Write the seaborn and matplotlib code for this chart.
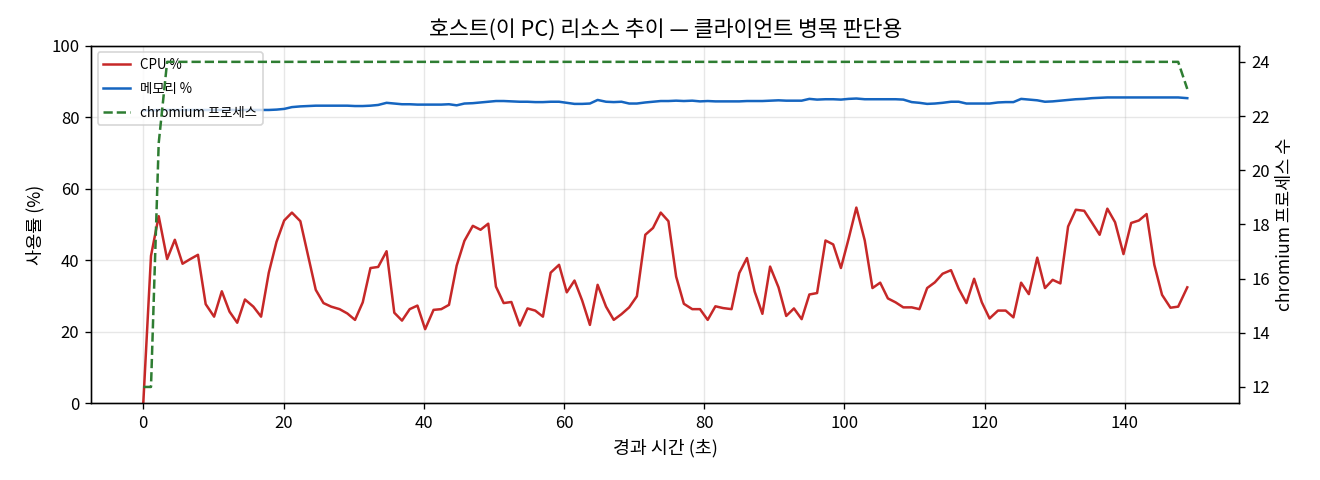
import matplotlib
matplotlib.use("Agg")
import matplotlib.pyplot as plt
import seaborn as sns

# 경과 시간 (초)
elapsed = [0.0, 1.1, 2.2, 3.4, 4.5, 5.6, 6.7, 7.8, 8.9, 10.1,
           11.2, 12.3, 13.4, 14.5, 15.7, 16.8, 17.9, 19.0, 20.1, 21.2,
           22.4, 23.5, 24.6, 25.7, 26.8, 28.0, 29.1, 30.2, 31.3, 32.4,
           33.5, 34.7, 35.8, 36.9, 38.0, 39.1, 40.2, 41.4, 42.5, 43.6,
           44.7, 45.8, 47.0, 48.1, 49.2, 50.3, 51.4, 52.5, 53.7, 54.8,
           55.9, 57.0, 58.1, 59.3, 60.4, 61.5, 62.6, 63.7, 64.8, 66.0,
           67.1, 68.2, 69.3, 70.4, 71.6, 72.7, 73.8, 74.9, 76.0, 77.1,
           78.3, 79.4, 80.5, 81.6, 82.7, 83.9, 85.0, 86.1, 87.2, 88.3,
           89.4, 90.6, 91.7, 92.8, 93.9, 95.0, 96.1, 97.3, 98.4, 99.5,
           100.6, 101.7, 102.9, 104.0, 105.1, 106.2, 107.3, 108.4, 109.6, 110.7,
           111.8, 112.9, 114.0, 115.2, 116.3, 117.4, 118.5, 119.6, 120.7, 121.9,
           123.0, 124.1, 125.2, 126.3, 127.5, 128.6, 129.7, 130.8, 131.9, 133.0,
           134.2, 135.3, 136.4, 137.5, 138.6, 139.8, 140.9, 142.0, 143.1, 144.2,
           145.3, 146.5, 147.6, 148.9]

cpu = [0.0, 41.2, 52.3, 40.3, 45.7, 39.0, 40.3, 41.5, 27.7, 24.2,
       31.3, 25.6, 22.5, 29.0, 27.0, 24.2, 36.5, 45.1, 51.1, 53.3,
       50.9, 41.3, 31.7, 28.0, 27.0, 26.3, 25.1, 23.3, 28.2, 37.8,
       38.1, 42.5, 25.3, 23.1, 26.3, 27.3, 20.7, 26.1, 26.3, 27.5,
       38.5, 45.4, 49.6, 48.5, 50.2, 32.6, 28.0, 28.3, 21.7, 26.5,
       25.9, 24.2, 36.5, 38.7, 31.0, 34.3, 28.7, 21.9, 33.1, 27.0,
       23.3, 24.9, 26.8, 29.9, 47.1, 49.0, 53.3, 50.9, 35.4, 27.8,
       26.3, 26.3, 23.3, 27.1, 26.6, 26.3, 36.4, 40.6, 31.2, 25.0,
       38.2, 32.4, 24.4, 26.5, 23.5, 30.4, 30.8, 45.5, 44.4, 37.8,
       46.0, 54.7, 45.5, 32.2, 33.7, 29.3, 28.2, 26.8, 26.8, 26.3,
       32.2, 33.8, 36.2, 37.2, 32.0, 28.0, 34.8, 28.2, 23.7, 25.9,
       25.9, 24.0, 33.7, 30.5, 40.7, 32.2, 34.5, 33.5, 49.4, 54.1,
       53.8, 50.5, 47.1, 54.4, 50.6, 41.7, 50.4, 51.1, 52.9, 38.7,
       30.3, 26.7, 27.0, 32.4]

memory = [81.9, 81.9, 82.0, 82.0, 82.0, 82.0, 82.0, 82.0, 82.0, 82.0,
          82.0, 82.0, 82.0, 82.0, 82.0, 82.0, 82.0, 82.1, 82.3, 82.8,
          83.0, 83.1, 83.2, 83.2, 83.2, 83.2, 83.2, 83.1, 83.1, 83.2,
          83.4, 84.0, 83.8, 83.6, 83.6, 83.5, 83.5, 83.5, 83.5, 83.6,
          83.3, 83.8, 83.9, 84.1, 84.3, 84.5, 84.5, 84.4, 84.3, 84.3,
          84.2, 84.2, 84.3, 84.3, 84.0, 83.7, 83.7, 83.8, 84.8, 84.3,
          84.2, 84.3, 83.8, 83.8, 84.1, 84.3, 84.5, 84.5, 84.6, 84.5,
          84.6, 84.4, 84.5, 84.4, 84.4, 84.4, 84.4, 84.5, 84.5, 84.5,
          84.6, 84.7, 84.6, 84.6, 84.6, 85.1, 84.9, 85.0, 85.0, 84.9,
          85.1, 85.2, 85.0, 85.0, 85.0, 85.0, 85.0, 84.9, 84.2, 84.0,
          83.7, 83.8, 84.0, 84.3, 84.3, 83.8, 83.8, 83.8, 83.8, 84.1,
          84.2, 84.2, 85.1, 84.9, 84.7, 84.3, 84.4, 84.6, 84.8, 85.0,
          85.1, 85.3, 85.4, 85.5, 85.5, 85.5, 85.5, 85.5, 85.5, 85.5,
          85.5, 85.5, 85.5, 85.3]

chromium = [12, 12, 21, 24, 24, 24, 24, 24, 24, 24,
            24, 24, 24, 24, 24, 24, 24, 24, 24, 24,
            24, 24, 24, 24, 24, 24, 24, 24, 24, 24,
            24, 24, 24, 24, 24, 24, 24, 24, 24, 24,
            24, 24, 24, 24, 24, 24, 24, 24, 24, 24,
            24, 24, 24, 24, 24, 24, 24, 24, 24, 24,
            24, 24, 24, 24, 24, 24, 24, 24, 24, 24,
            24, 24, 24, 24, 24, 24, 24, 24, 24, 24,
            24, 24, 24, 24, 24, 24, 24, 24, 24, 24,
            24, 24, 24, 24, 24, 24, 24, 24, 24, 24,
            24, 24, 24, 24, 24, 24, 24, 24, 24, 24,
            24, 24, 24, 24, 24, 24, 24, 24, 24, 24,
            24, 24, 24, 24, 24, 24, 24, 24, 24, 24,
            24, 24, 24, 23]

plt.rcParams['font.family'] = ['Noto Sans CJK KR', 'DejaVu Sans']
plt.rcParams['axes.unicode_minus'] = False

fig, ax = plt.subplots(figsize=(11, 4), dpi=120)
fig.subplots_adjust(left=0.069, right=0.939, top=0.905, bottom=0.160)

# 왼쪽 축: CPU / 메모리
sns.lineplot(x=elapsed, y=cpu, ax=ax, color='#c62828', linewidth=1.5, label='CPU %')
sns.lineplot(x=elapsed, y=memory, ax=ax, color='#1565c0', linewidth=1.5, label='메모리 %')
ax.set_ylim(0, 100)
ax.set_xlabel('경과 시간 (초)', fontsize=11)
ax.set_ylabel('사용률 (%)', fontsize=10.5)
ax.grid(alpha=0.3)

# 오른쪽 축: chromium 프로세스 수
ax2 = ax.twinx()
sns.lineplot(x=elapsed, y=chromium, ax=ax2, color='#2e7d32', linewidth=1.5,
             linestyle='--', label='chromium 프로세스')
ax2.set_ylabel('chromium 프로세스 수', fontsize=10.5)

# 범례 합치기
h1, l1 = ax.get_legend_handles_labels()
h2, l2 = ax2.get_legend_handles_labels()
ax2.get_legend().remove()
ax.legend(h1 + h2, l1 + l2, loc='upper left', fontsize=8, labelspacing=0.75)

ax.set_title('호스트(이 PC) 리소스 추이 — 클라이언트 병목 판단용', fontsize=13)

fig.savefig('out.png', dpi=120)
